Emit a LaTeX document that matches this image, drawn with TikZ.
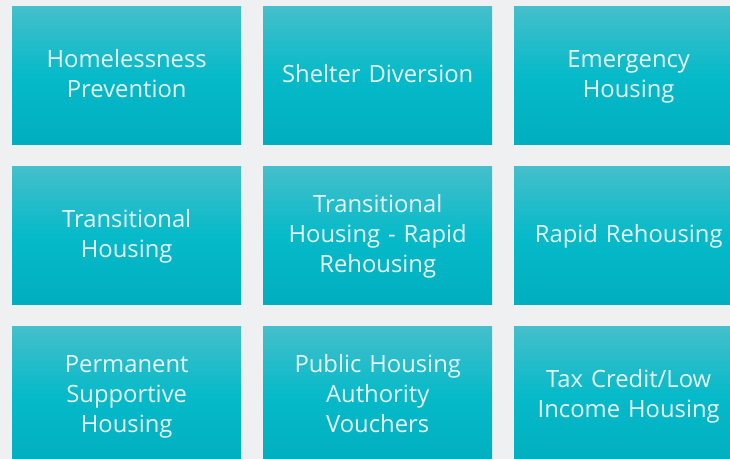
\documentclass[tikz,border=0pt]{standalone}
\usepackage{fontspec}
\setmainfont[Ligatures=NoCommon]{Open Sans}
\definecolor{bgc}{HTML}{EFF0F2}
\definecolor{topc}{HTML}{45BFCB}
\definecolor{midc}{HTML}{06BAC9}
\definecolor{botc}{HTML}{00AFBF}
\definecolor{txtc}{HTML}{E8F5F7}
\tikzset{
  tile/.style={anchor=north west, minimum width=229bp, minimum height=138bp, inner sep=0pt,
    top color=topc, bottom color=botc, middle color=midc, draw=none,
    text=txtc, align=center, text width=225bp,
    font=\fontsize{23.8bp}{30bp}\selectfont,
    execute at begin node={\rule{0pt}{22.6bp}},
    execute at end node={\rule[-7.4bp]{0pt}{7.4bp}}}
}
\begin{document}
\begin{tikzpicture}[x=1bp,y=-1bp]
\fill[bgc] (0,0) rectangle (730,459);
\useasboundingbox (0,0) rectangle (730,459);
\node[tile] (a1) at (12,6) {Homelessness\\Prevention};
\node[tile] (a2) at (263,6) {Shelter Diversion};
\node[tile] (a3) at (514,6) {Emergency\\Housing};
\node[tile] (b1) at (12,166) {Transitional\\Housing};
\node[tile] (b2) at (263,166) {Transitional\\Housing - Rapid\\Rehousing};
\node[tile] (b3) at (514,166) {Rapid Rehousing};
\node[tile] (c1) at (12,326) {Permanent\\Supportive\\Housing};
\node[tile] (c2) at (263,326) {Public Housing\\Authority\\Vouchers};
\node[tile] (c3) at (514,326) {Tax Credit/Low\\Income Housing};
\end{tikzpicture}
\end{document}
